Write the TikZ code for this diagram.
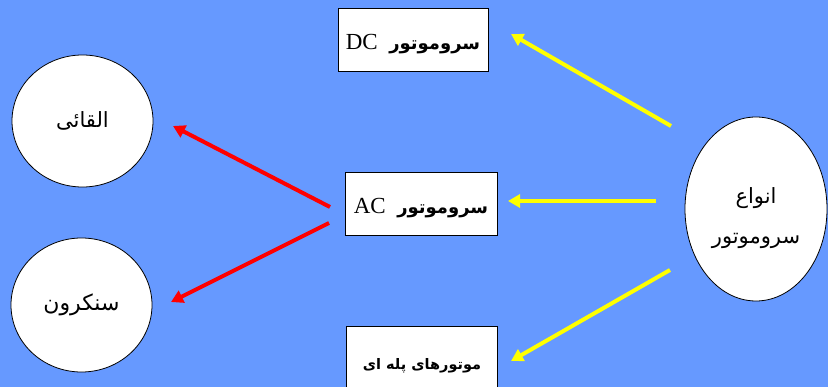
\documentclass[tikz,border=0pt]{standalone}
\usepackage{fontspec}
\setmainfont{Liberation Serif}
\newfontfamily\arabicfont[Script=Arabic]{DejaVu Sans}
\TeXXeTstate=1
\usetikzlibrary{shapes.geometric,arrows.meta}
\definecolor{bgblue}{RGB}{102,153,255}
\definecolor{arrowyellow}{RGB}{255,255,0}
\definecolor{arrowred}{RGB}{255,0,0}
\tikzset{
  typebox/.style={draw=black,line width=0.9pt,fill=white,rectangle,minimum width=150pt,minimum height=63pt,inner sep=0pt},
  typeoval/.style={draw=black,line width=0.8pt,fill=white,ellipse,inner sep=0pt},
  plaintext/.style={inner sep=0pt},
  yarrow/.style={draw=arrowyellow,line width=4pt,-{Triangle[length=12pt,width=13pt]}},
  rarrow/.style={draw=arrowred,line width=4pt,-{Triangle[length=12pt,width=13pt]}},
}
\begin{document}
\begin{tikzpicture}[x=1pt,y=-1pt]
\fill[bgblue] (0,0) rectangle (828,387);
\useasboundingbox (0,0) rectangle (828,387);
% boxes
\node[typebox] (dc) at (413,39.5) {};
\node[plaintext] (dctext) at ([yshift=-5pt]dc.center) {\fontsize{23}{26}\selectfont DC\ \ {\arabicfont\bfseries\fontsize{18}{21}\selectfont\beginR سروموتور\endR}};
\node[typebox,minimum width=152pt] (ac) at (421,203.5) {};
\node[plaintext] (actext) at ([yshift=-5pt]ac.center) {\fontsize{23}{26}\selectfont AC\ \ {\arabicfont\bfseries\fontsize{18}{21}\selectfont\beginR سروموتور\endR}};
\node[typebox,minimum width=151pt] (step) at (422,357.5) {};
\node[plaintext] (steptext) at ([yshift=-8pt]step.center) {\arabicfont\bfseries\fontsize{14.5}{17}\selectfont\beginR موتورهای پله ای\endR};
% ovals
\node[typeoval,minimum width=141pt,minimum height=132pt] (induct) at (82.5,121) {{\arabicfont\fontsize{21}{24}\selectfont\beginR القائی\endR}};
\node[typeoval,minimum width=141pt,minimum height=134pt] (sync) at (81.5,305) {{\arabicfont\fontsize{22}{25}\selectfont\beginR سنکرون\endR}};
\node[typeoval,minimum width=142pt,minimum height=184pt] (types) at (756,209) {};
\node[align=center,font=\arabicfont\fontsize{21}{40}\selectfont,inner sep=0pt] (typestext) at ([yshift=-9pt]types.center) {\beginR انواع\endR\\\beginR سروموتور\endR};
% arrow ends
\coordinate (y1s) at (671,126);
\coordinate (y1e) at (511,34);
\coordinate (y2s) at (656,201);
\coordinate (y2e) at (508,201);
\coordinate (y3s) at (670,270);
\coordinate (y3e) at (511,361);
\coordinate (r1s) at (330,207);
\coordinate (r1e) at (173,126);
\coordinate (r2s) at (329,223);
\coordinate (r2e) at (171,302);
\draw[yarrow] (y1s) -- (y1e);
\draw[yarrow] (y2s) -- (y2e);
\draw[yarrow] (y3s) -- (y3e);
\draw[rarrow] (r1s) -- (r1e);
\draw[rarrow] (r2s) -- (r2e);
\end{tikzpicture}
\end{document}
